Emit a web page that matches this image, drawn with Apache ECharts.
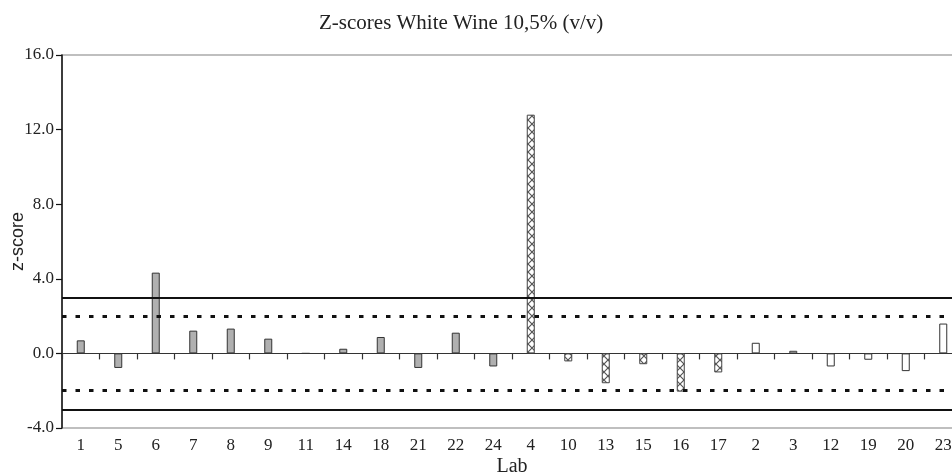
<!DOCTYPE html>
<html>
<head>
<meta charset="utf-8">
<script src="https://cdn.jsdelivr.net/npm/echarts@6/dist/echarts.min.js"></script>
<style>
html,body{margin:0;padding:0;background:#fff;}
#chart{width:952px;height:475px;}
</style>
</head>
<body>
<div id="chart"></div>
<script>
// Data
var labs = ['1','5','6','7','8','9','11','14','18','21','22','24','4','10','13','15','16','17','2','3','12','19','20','23'];
var zScores = [0.70,-0.78,4.33,1.22,1.33,0.79,0,0.25,0.88,-0.78,1.11,-0.70,12.8,-0.43,-1.60,-0.58,-2.05,-1.02,0.57,0.14,-0.70,-0.34,-0.95,1.60];
// group of each lab: 0 = gray, 1 = cross-hatched, 2 = white
var groups = [0,0,0,0,0,0,0,0,0,0,0,0,1,1,1,1,1,1,2,2,2,2,2,2];
var yTicks = [-4, 0, 4, 8, 12, 16];
var limitWarning = [2, -2];
var limitAction = [3, -3];

// cross-hatch pattern
var pc = document.createElement('canvas');
pc.width = 8; pc.height = 8;
var ctx = pc.getContext('2d');
ctx.fillStyle = '#fff';
ctx.fillRect(0, 0, 8, 8);
ctx.strokeStyle = '#555';
ctx.lineWidth = 1.2;
ctx.beginPath();
ctx.moveTo(0, 0); ctx.lineTo(8, 8);
ctx.moveTo(8, 0); ctx.lineTo(0, 8);
ctx.stroke();

var groupStyles = [
  {color: '#b0b0b0', borderColor: '#333', borderWidth: 1},
  {color: {image: pc, repeat: 'repeat'}, borderColor: '#444', borderWidth: 1},
  {color: '#ffffff', borderColor: '#333', borderWidth: 1}
];

var barData = zScores.map(function (v, i) {
  return {value: v, itemStyle: groupStyles[groups[i]]};
});

var markLines = [];
limitAction.forEach(function (v) {
  markLines.push({yAxis: v, lineStyle: {color: '#111', width: 2, type: 'solid'}});
});
limitWarning.forEach(function (v) {
  markLines.push({yAxis: v, lineStyle: {color: '#111', width: 3, type: [4.5, 9]}});
});

var serif = '"Liberation Serif", "DejaVu Serif", serif';
var chart = echarts.init(document.getElementById('chart'));
chart.setOption({
  animation: false,
  title: {
    text: 'Z-scores White Wine 10,5% (v/v)',
    left: 314, top: 8,
    textStyle: {fontFamily: serif, fontSize: 21, fontWeight: 'normal', color: '#222'}
  },
  grid: {
    left: 62, top: 55, width: 900, height: 373,
    outerBoundsMode: 'none', containLabel: false,
    show: true, borderColor: '#aaa', borderWidth: 1.5, backgroundColor: 'transparent'
  },
  xAxis: [
    {
      type: 'category', data: labs, position: 'bottom',
      axisLine: {onZero: false, show: false},
      axisTick: {show: false},
      axisLabel: {fontFamily: serif, fontSize: 17, color: '#222', margin: 9, interval: 0},
      name: 'Lab', nameLocation: 'middle', nameGap: 29, nameMoveOverlap: false,
      nameTextStyle: {fontFamily: serif, fontSize: 20, color: '#222'}
    },
    {
      type: 'category', data: labs, position: 'bottom',
      axisLine: {onZero: true, lineStyle: {color: '#333', width: 1.2}},
      axisTick: {show: true, alignWithLabel: false, length: 6, interval: 0, lineStyle: {color: '#333', width: 1.2}},
      axisLabel: {show: false},
      splitLine: {show: false}
    }
  ],
  yAxis: {
    type: 'value', min: -4, max: 16, interval: 4,
    axisLine: {show: true, lineStyle: {color: '#111', width: 1.5}},
    axisTick: {show: true, length: 6, lineStyle: {color: '#111', width: 1.2}},
    axisLabel: {
      fontFamily: serif, fontSize: 17, color: '#222', margin: 8,
      formatter: function (v) { return yTicks.indexOf(v) >= 0 ? v.toFixed(1) : ''; }
    },
    splitLine: {show: false},
    name: 'z-score', nameLocation: 'middle', nameGap: 35, nameMoveOverlap: false,
    nameTextStyle: {fontFamily: '"Liberation Sans", Arial, sans-serif', fontSize: 18, color: '#222'}
  },
  series: [{
    type: 'bar', xAxisIndex: 0, yAxisIndex: 0,
    data: barData, barWidth: 8,
    markLine: {
      silent: true, symbol: ['none', 'none'], label: {show: false},
      data: markLines
    }
  }]
});
</script>
</body>
</html>
